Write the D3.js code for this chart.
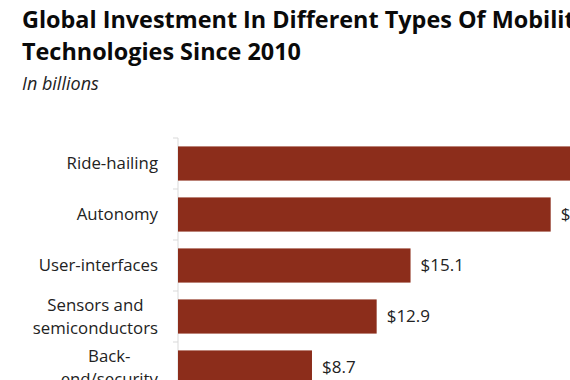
<!DOCTYPE html>
<html>
<head>
<meta charset="utf-8">
<script src="https://cdn.jsdelivr.net/npm/d3@7"></script>
<style>
  html, body { margin: 0; padding: 0; background: #fff; overflow: hidden; }
  svg { display: block; }
</style>
</head>
<body>
<script>
const categories = ["Ride-hailing", "Autonomy", "User-interfaces", "Sensors and semiconductors", "Back-end/security"];
const categoryLines = [["Ride-hailing"], ["Autonomy"], ["User-interfaces"], ["Sensors and", "semiconductors"], ["Back-", "end/security"]];
const values = [31.5, 24.2, 15.1, 12.9, 8.7];
const valueLabels = ["$31.5", "$24.2", "$15.1", "$12.9", "$8.7"];
const titleLines = ["Global Investment In Different Types Of Mobility", "Technologies Since 2010"];
const subtitle = "In billions";

const W = 900, H = 380;
const font = "'Open Sans', Lato, sans-serif";
const svg = d3.select("body").append("svg").attr("width", W).attr("height", H);

svg.selectAll("text.title").data(titleLines).enter().append("text")
  .attr("class", "title")
  .attr("x", 22).attr("y", (d, i) => 28 + i * 32)
  .attr("font-family", font).attr("font-weight", "bold").attr("font-size", 23.4)
  .attr("fill", "#0a0a0a")
  .text(d => d);

svg.append("text").attr("x", 22).attr("y", 90)
  .attr("font-family", font).attr("font-style", "italic").attr("font-size", 18)
  .attr("fill", "#222").text(subtitle);

const x0 = 178;
const x = d3.scaleLinear().domain([0, 1]).range([x0, x0 + 15.4]);
const y = d3.scaleBand().domain(categories).range([138, 138 + 51 * categories.length]).paddingInner(0.33).paddingOuter(0.165);

// axis line and ticks
svg.append("line").attr("x1", x0).attr("x2", x0).attr("y1", 138).attr("y2", H)
  .attr("stroke", "#d9d9d9").attr("stroke-width", 1);
const bounds = d3.range(categories.length + 1).map(i => 138 + i * y.step());
svg.selectAll("line.tick").data(bounds).enter().append("line")
  .attr("x1", x0 - 5).attr("x2", x0).attr("y1", d => d).attr("y2", d => d)
  .attr("stroke", "#d9d9d9");

svg.selectAll("rect.bar").data(values).enter().append("rect")
  .attr("x", x(0))
  .attr("y", (d, i) => y(categories[i]))
  .attr("width", d => x(d) - x(0))
  .attr("height", y.bandwidth())
  .attr("fill", "#8c2d1b");

svg.selectAll("text.val").data(values).enter().append("text")
  .attr("x", d => x(d) + 10)
  .attr("y", (d, i) => y(categories[i]) + y.bandwidth() / 2)
  .attr("dy", "0.35em")
  .attr("font-family", font).attr("font-size", 17).attr("fill", "#222")
  .text((d, i) => valueLabels[i]);

categoryLines.forEach((lines, i) => {
  const cy = y(categories[i]) + y.bandwidth() / 2;
  const g = svg.append("g");
  const lh = 23;
  const texts = lines.map((l, j) => g.append("text")
    .attr("y", cy + (j - (lines.length - 1) / 2) * lh)
    .attr("dy", "0.35em")
    .attr("font-family", font).attr("font-size", 16.8).attr("fill", "#222")
    .text(l));
  const maxW = d3.max(texts, t => t.node().getComputedTextLength());
  texts.forEach(t => t.attr("x", 158 - maxW / 2).attr("text-anchor", "middle"));
});
</script>
</body>
</html>
